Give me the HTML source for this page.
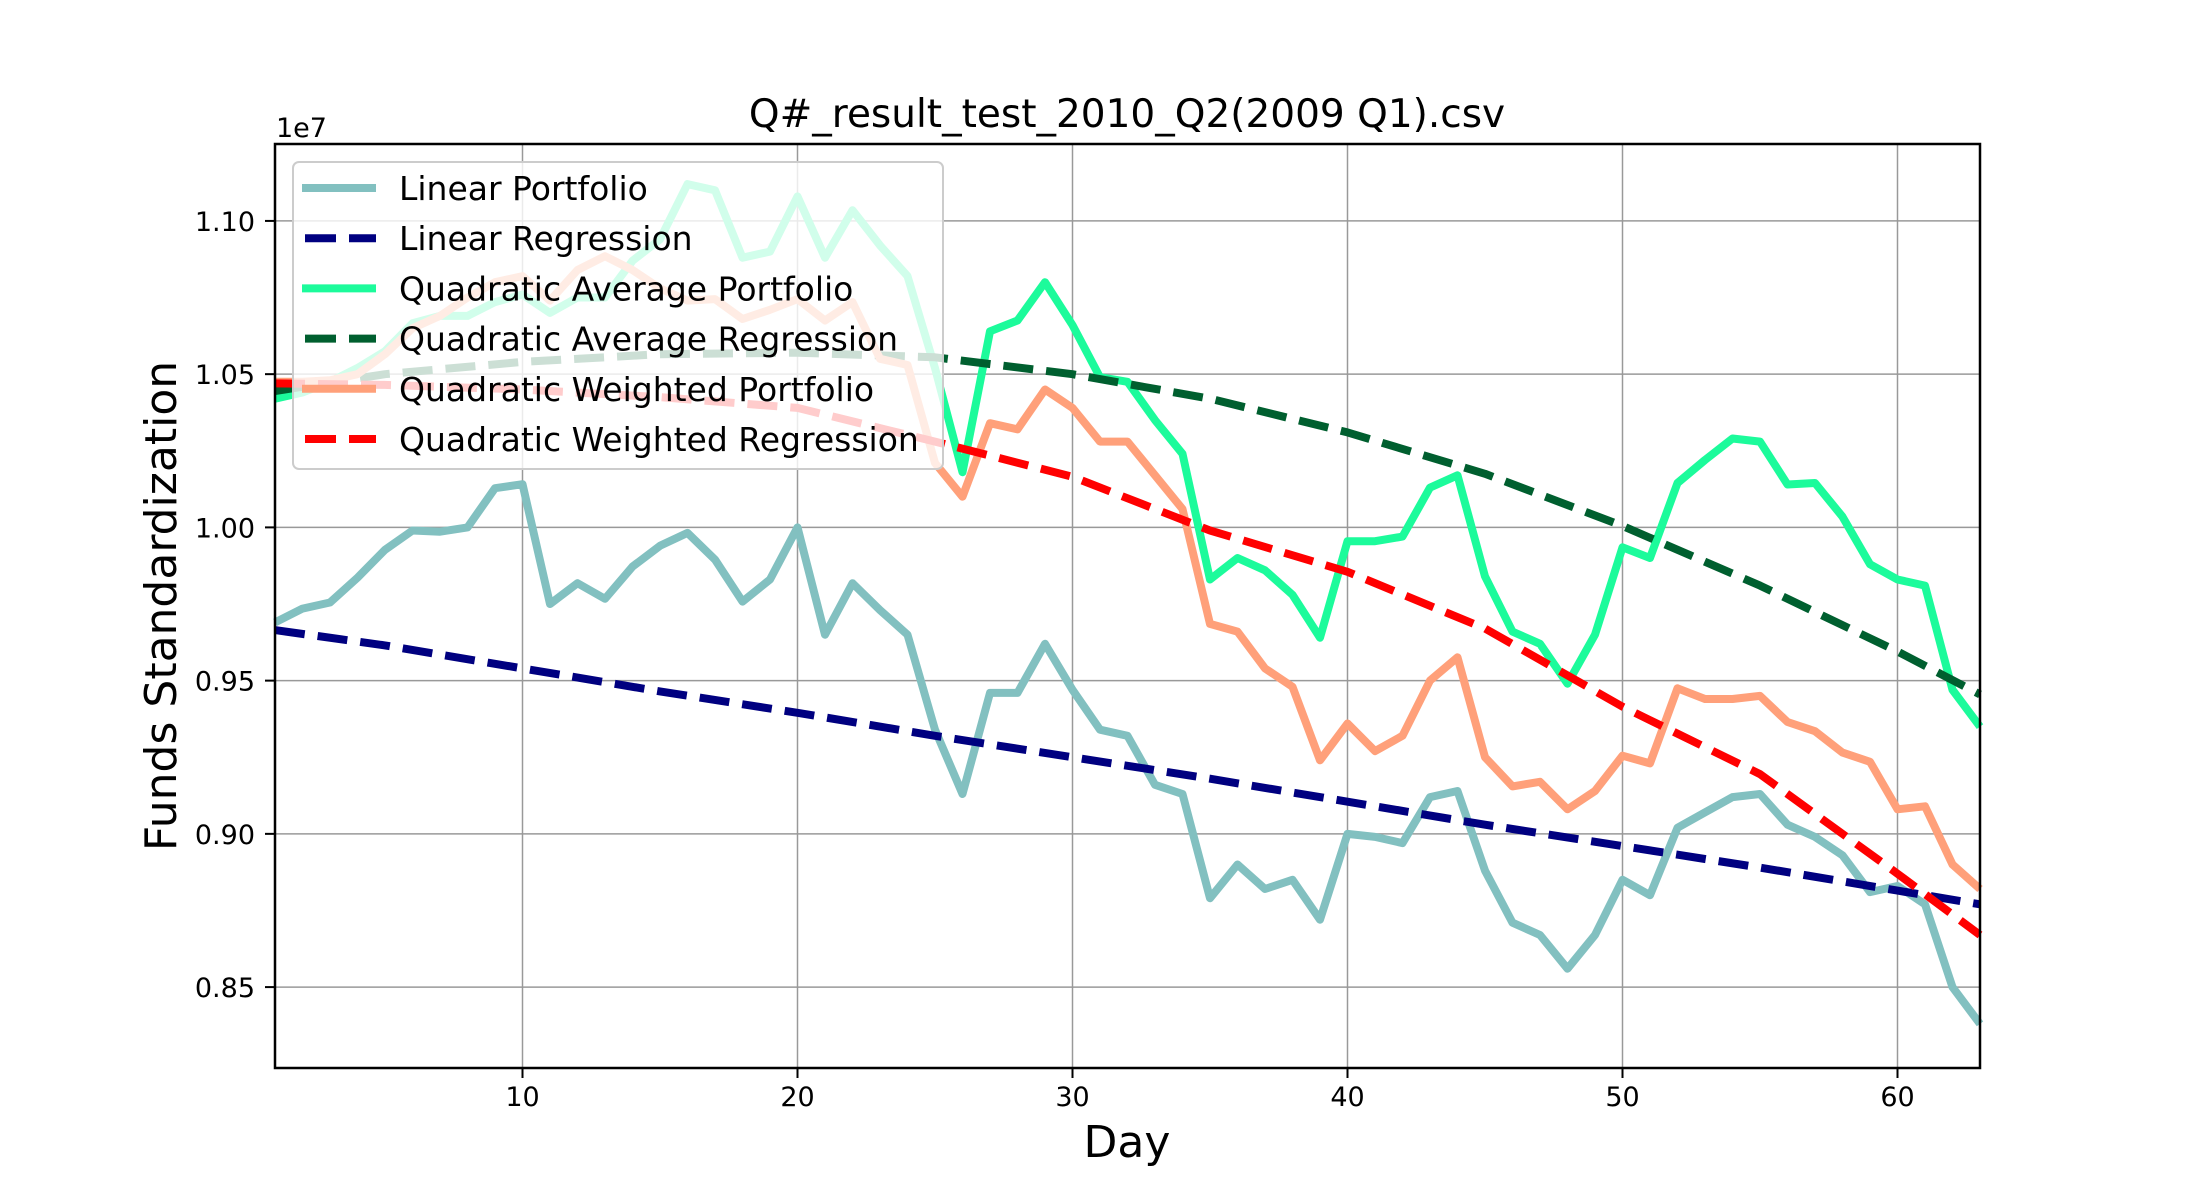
<!DOCTYPE html>
<html><head><meta charset="utf-8"><style>
html,body{margin:0;padding:0;background:#fff;}
svg{display:block;font-family:"DejaVu Sans","Liberation Sans",sans-serif;}
</style></head><body>
<svg id="chart" width="2200" height="1200" viewBox="0 0 2200 1200" xmlns="http://www.w3.org/2000/svg">
<rect width="2200" height="1200" fill="#fff"/>
<g id="grid"></g>
<g id="series"></g>
<rect x="275" y="144" width="1705" height="924" fill="none" stroke="#000" stroke-width="2.5"/>
<g id="ticks" font-size="27" fill="#000"></g>
<text x="1127" y="127" text-anchor="middle" font-size="39">Q#_result_test_2010_Q2(2009 Q1).csv</text>
<text x="276" y="137" font-size="27">1e7</text>
<text x="1127" y="1157" text-anchor="middle" font-size="44">Day</text>
<text transform="translate(176,606) rotate(-90)" text-anchor="middle" font-size="44">Funds Standardization</text>
<g id="legend"></g>
</svg>
<script>
const days = Array.from({length:63},(_,i)=>i+1);
const linearPortfolio = [0.969,0.9735,0.9755,0.9836,0.9927,0.999,0.9986,1.0,1.0128,1.0141,0.975,0.9818,0.9767,0.9872,0.994,0.9982,0.9895,0.9758,0.983,1.0,0.965,0.9818,0.973,0.965,0.934,0.913,0.946,0.946,0.962,0.947,0.934,0.932,0.916,0.913,0.879,0.890,0.882,0.885,0.872,0.900,0.899,0.897,0.912,0.914,0.888,0.871,0.867,0.856,0.867,0.885,0.880,0.902,0.907,0.912,0.913,0.903,0.899,0.893,0.881,0.883,0.877,0.850,0.838];
const quadAvgPortfolio = [1.042,1.044,1.0475,1.052,1.0575,1.0666,1.069,1.069,1.0735,1.076,1.070,1.075,1.075,1.087,1.094,1.112,1.110,1.088,1.090,1.108,1.088,1.1035,1.092,1.082,1.052,1.018,1.064,1.0675,1.080,1.066,1.049,1.0475,1.035,1.024,0.983,0.990,0.986,0.978,0.964,0.9955,0.9955,0.997,1.013,1.017,0.984,0.966,0.962,0.949,0.965,0.9935,0.990,1.0145,1.022,1.029,1.028,1.014,1.0145,1.0035,0.988,0.983,0.981,0.947,0.935];
const quadWPortfolio = [1.0475,1.0475,1.048,1.050,1.0565,1.065,1.069,1.075,1.080,1.082,1.074,1.084,1.0885,1.084,1.078,1.074,1.0745,1.068,1.071,1.0745,1.0675,1.0735,1.055,1.053,1.021,1.010,1.034,1.032,1.045,1.039,1.028,1.028,1.017,1.006,0.9685,0.966,0.954,0.948,0.924,0.936,0.927,0.932,0.950,0.9576,0.925,0.9155,0.917,0.908,0.914,0.9255,0.923,0.9475,0.944,0.944,0.945,0.9365,0.9335,0.9265,0.9235,0.908,0.909,0.890,0.882];
const regDays = [1,5,10,15,20,25,30,35,40,45,50,55,60,63];
const linearReg = [0.9665,0.9615,0.954,0.9465,0.9395,0.932,0.925,0.918,0.9105,0.903,0.896,0.889,0.8815,0.877];
const quadAvgReg = [1.0445,1.050,1.054,1.0565,1.057,1.0555,1.050,1.042,1.031,1.0175,1.0005,0.981,0.9595,0.9455];
const quadWReg = [1.047,1.0465,1.045,1.0425,1.039,1.028,1.0165,0.999,0.9855,0.967,0.9415,0.9195,0.887,0.867];
const xTicks = [10,20,30,40,50,60];
const yTicks = [0.85,0.90,0.95,1.00,1.05,1.10];
const yTickLabels = ["0.85","0.90","0.95","1.00","1.05","1.10"];
const legendLabels = ["Linear Portfolio","Linear Regression","Quadratic Average Portfolio","Quadratic Average Regression","Quadratic Weighted Portfolio","Quadratic Weighted Regression"];

const NS="http://www.w3.org/2000/svg";
const L=275,R=1980,T=144,B=1068, X0=1,X1=63, Y0=0.8236,Y1=1.1251;
const xs=d=>L+(d-X0)/(X1-X0)*(R-L);
const ys=v=>B-(v-Y0)/(Y1-Y0)*(B-T);
function mk(tag,attrs,parent){const e=document.createElementNS(NS,tag);for(const k in attrs)e.setAttribute(k,attrs[k]);parent.appendChild(e);return e;}
const grid=document.getElementById('grid'),ticks=document.getElementById('ticks'),series=document.getElementById('series'),legend=document.getElementById('legend');
xTicks.forEach(t=>{
  const g=mk('line',{x1:xs(t),x2:xs(t),y1:T,y2:B,stroke:'#999','stroke-width':1.5},grid);
  
  
  const tk=mk('line',{x1:xs(t),x2:xs(t),y1:B,y2:B+10,stroke:'#000','stroke-width':2},ticks);
  
  
  const tl=mk('text',{x:xs(t),y:B+38,'text-anchor':'middle'},ticks);tl.textContent=t;
  
  
});
yTicks.forEach((t,i)=>{
  const g=mk('line',{x1:L,x2:R,y1:ys(t),y2:ys(t),stroke:'#999','stroke-width':1.5},grid);
  
  
  const tk=mk('line',{x1:L-10,x2:L,y1:ys(t),y2:ys(t),stroke:'#000','stroke-width':2},ticks);
  
  
  const tl=mk('text',{x:L-20,y:ys(t)+10,'text-anchor':'end'},ticks);tl.textContent=yTickLabels[i];
  
  
});
const defs=[
 {xd:days,yd:linearPortfolio,c:'#82c0c0',dash:null,n:'linear-portfolio-line'},
 {xd:regDays,yd:linearReg,c:'#000080',dash:'30,13',n:'linear-regression-line'},
 {xd:days,yd:quadAvgPortfolio,c:'#1cfb9b',dash:null,n:'quadratic-average-portfolio-line'},
 {xd:regDays,yd:quadAvgReg,c:'#005f2f',dash:'30,13',n:'quadratic-average-regression-line'},
 {xd:days,yd:quadWPortfolio,c:'#ffa07a',dash:null,n:'quadratic-weighted-portfolio-line'},
 {xd:regDays,yd:quadWReg,c:'#ff0000',dash:'30,13',n:'quadratic-weighted-regression-line'}];
defs.forEach(s=>{
  const pts=s.xd.map((d,i)=>xs(d).toFixed(1)+','+ys(s.yd[i]).toFixed(1)).join(' ');
  const a={points:pts,fill:'none',stroke:s.c,'stroke-width':8,'stroke-linejoin':'round'};
  if(s.dash)a['stroke-dasharray']=s.dash;
  const p=mk('polyline',a,series);
  
  
});
const box=mk('rect',{x:293,y:162,width:650,height:307,rx:6,fill:'#fff','fill-opacity':0.8,stroke:'#ccc','stroke-width':2},legend);


legendLabels.forEach((lab,i)=>{
  const y=188+i*50.2;
  const a={x1:302,x2:376,y1:y,y2:y,stroke:defs[i].c,'stroke-width':8};
  if(defs[i].dash){a['stroke-dasharray']='31,13';a.x1=305;}
  const h=mk('line',a,legend);
  
  
  const t=mk('text',{x:399,y:y+12,'font-size':33},legend);t.textContent=lab;
  
  
});
</script>
</body></html>
